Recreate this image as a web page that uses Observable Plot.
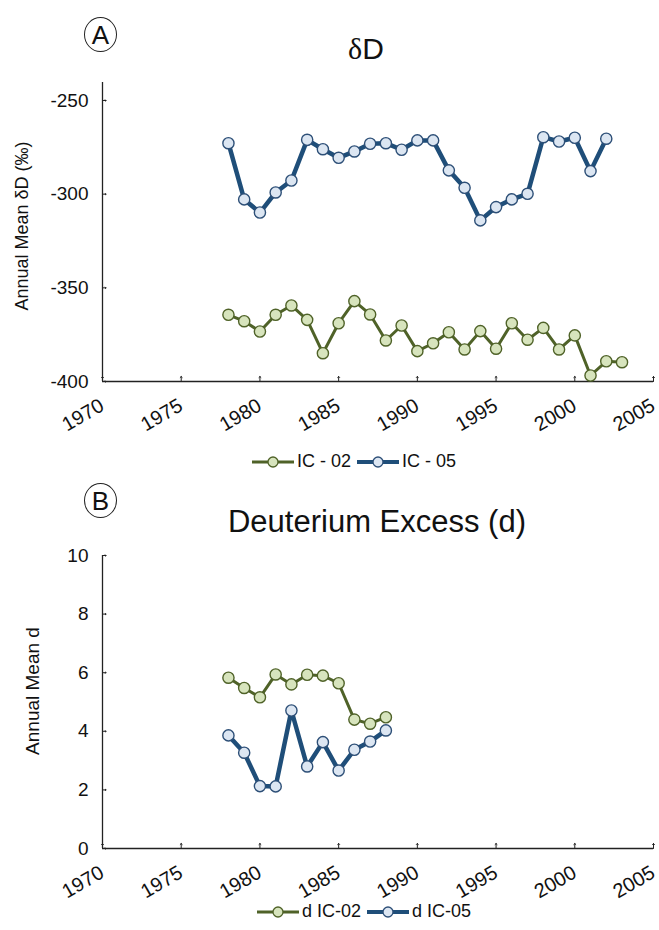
<!DOCTYPE html>
<html><head><meta charset="utf-8">
<script src="https://cdn.jsdelivr.net/npm/d3@7"></script>
<script src="https://cdn.jsdelivr.net/npm/@observablehq/plot@0.6"></script>
<style>
body{margin:0;background:#fff;font-family:"Liberation Sans",Arial,sans-serif;color:#111;}
#root{position:relative;width:659px;height:930px;overflow:hidden;background:#fff;}
#root svg{position:absolute;left:0;}
.badge{position:absolute;width:33px;height:35px;border:1.3px solid #222;border-radius:50%;display:flex;align-items:center;justify-content:center;font-size:26px;line-height:1;box-sizing:border-box;}
.title{position:absolute;white-space:nowrap;transform:translateX(-50%);font-size:30px;line-height:1;}
.legend{position:absolute;display:flex;align-items:center;font-size:18px;white-space:nowrap;}
.legend .item{display:flex;align-items:center;margin-right:6px;}
.legend svg{position:static !important;margin-right:3px;}
</style>
</head><body>
<div id="root"></div>
<script>
// ---- data ----
const years02 = [1978,1979,1980,1981,1982,1983,1984,1985,1986,1987,1988,1989,1990,1991,1992,1993,1994,1995,1996,1997,1998,1999,2000,2001,2002,2003];
const dD_IC02 = [-364.4,-367.8,-373.3,-364.4,-359.4,-367.1,-384.9,-368.9,-357.1,-364.2,-378.1,-370.1,-383.8,-379.6,-373.7,-382.9,-373.1,-382.5,-368.9,-377.7,-371.4,-382.9,-375.4,-396.8,-389.2,-389.7];
const years05 = [1978,1979,1980,1981,1982,1983,1984,1985,1986,1987,1988,1989,1990,1991,1992,1993,1994,1995,1996,1997,1998,1999,2000,2001,2002];
const dD_IC05 = [-272.8,-302.8,-309.8,-299.1,-292.7,-271.0,-276.0,-280.6,-277.2,-273.1,-272.8,-276.3,-271.3,-271.3,-287.3,-296.6,-314.0,-306.9,-302.8,-299.8,-269.6,-271.9,-269.9,-287.7,-270.4];
const yearsD = [1978,1979,1980,1981,1982,1983,1984,1985,1986,1987,1988];
const d_IC02 = [5.83,5.48,5.16,5.94,5.60,5.93,5.90,5.64,4.40,4.26,4.48];
const d_IC05 = [3.86,3.27,2.13,2.12,4.71,2.80,3.63,2.66,3.37,3.65,4.03];
const xTicks = [1970,1975,1980,1985,1990,1995,2000,2005];
const yTicksA = [-400,-350,-300,-250];
const yTicksB = [0,2,4,6,8,10];
const legendA = ["IC - 02","IC - 05"];
const legendB = ["d IC-02","d IC-05"];

// ---- styles ----
const GREEN = {line:"#4f6228", fill:"#d7e4bd", stroke:"#4f6228", width:3};
const BLUE  = {line:"#1f4e79", fill:"#dce6f2", stroke:"#2d4f77", width:4.5};

const root = document.getElementById("root");

function chart({s1, s2, yDomain, yTicks, yLabel, labelSize, labelDx, labelDy, top, height, marginTop, marginBottom}) {
  const sMarks = (rows, st) => [
    Plot.line(rows, {x:"year", y:"value", stroke:st.line, strokeWidth:st.width, curve:"linear"}),
    Plot.dot(rows, {x:"year", y:"value", r:5.6, fill:st.fill, stroke:st.stroke, strokeWidth:1.4})
  ];
  const svg = Plot.plot({
    width: 659, height, marginLeft: 102, marginRight: 6, marginTop, marginBottom,
    x: {domain: [xTicks[0], xTicks[xTicks.length-1]], axis: null},
    y: {domain: yDomain, axis: null},
    style: {fontFamily: '"Liberation Sans", Arial, sans-serif', background: "transparent", overflow: "visible"},
    marks: [
      Plot.ruleY([yDomain[0]], {stroke:"#222", strokeWidth:1.3}),
      Plot.ruleX([xTicks[0]], {stroke:"#222", strokeWidth:1.3}),
      Plot.vector(xTicks, {x: d => d, frameAnchor: "bottom", rotate: 0, length: 5, anchor: "start", stroke: "#222", strokeWidth: 1}),
      Plot.vector(yTicks, {y: d => d, frameAnchor: "left", rotate: 90, length: 3.5, anchor: "start", stroke: "#222", strokeWidth: 1}),
      Plot.text(xTicks, {x: d => d, frameAnchor: "bottom", dy: 28, dx: 3, rotate: -30, textAnchor: "end", text: d => String(d), fontSize: 20, fill: "#111"}),
      Plot.text(yTicks, {y: d => d, frameAnchor: "left", dx: -14, textAnchor: "end", text: d => String(d), fontSize: 19, fill: "#111"}),
      Plot.text([yLabel], {frameAnchor: "left", dx: labelDx, dy: labelDy, rotate: -90, textAnchor: "middle", text: d => d, fontSize: labelSize, fill: "#111"}),
      ...sMarks(s1, GREEN),
      ...sMarks(s2, BLUE)
    ]
  });
  svg.style.top = top + "px";
  root.appendChild(svg);
}

const rows = (ys, vs) => ys.map((y, i) => ({year: y, value: vs[i]}));

chart({s1: rows(years02, dD_IC02), s2: rows(years05, dD_IC05), yDomain: [-400, -240.4], yTicks: yTicksA,
  yLabel: "Annual Mean δD (‰)", labelSize: 18, labelDx: -80, labelDy: -6, top: 0, height: 440, marginTop: 82, marginBottom: 59});
chart({s1: rows(yearsD, d_IC02), s2: rows(yearsD, d_IC05), yDomain: [0, 10], yTicks: yTicksB,
  yLabel: "Annual Mean d", labelSize: 19, labelDx: -70, labelDy: -11, top: 540, height: 380, marginTop: 15, marginBottom: 72});

// badges & titles
function add(html, cls, css) { const d = document.createElement("div"); d.className = cls; d.innerHTML = html; Object.assign(d.style, css); root.appendChild(d); }
add("A", "badge", {left: "84px", top: "17px"});
add("B", "badge", {left: "84px", top: "483px"});
add('<span style="font-family:\'Liberation Serif\',serif">δ</span>D', "title", {left: "366px", top: "34px"});
add("Deuterium Excess (d)", "title", {left: "377px", top: "506px", fontSize: "31px"});

function legend(labels, left, top) {
  const sw = st => `<svg width="42" height="14" viewBox="0 0 42 14"><line x1="0" y1="7" x2="42" y2="7" stroke="${st.line}" stroke-width="${Math.min(st.width,4)}"/><circle cx="21" cy="7" r="5" fill="${st.fill}" stroke="${st.stroke}" stroke-width="1.3"/></svg>`;
  add(`<div class="item">${sw(GREEN)}<span>${labels[0]}</span></div><div class="item">${sw(BLUE)}<span>${labels[1]}</span></div>`, "legend", {left: left + "px", top: top + "px"});
}
legend(legendA, 252, 451);
legend(legendB, 257, 901);
</script>
</body></html>
